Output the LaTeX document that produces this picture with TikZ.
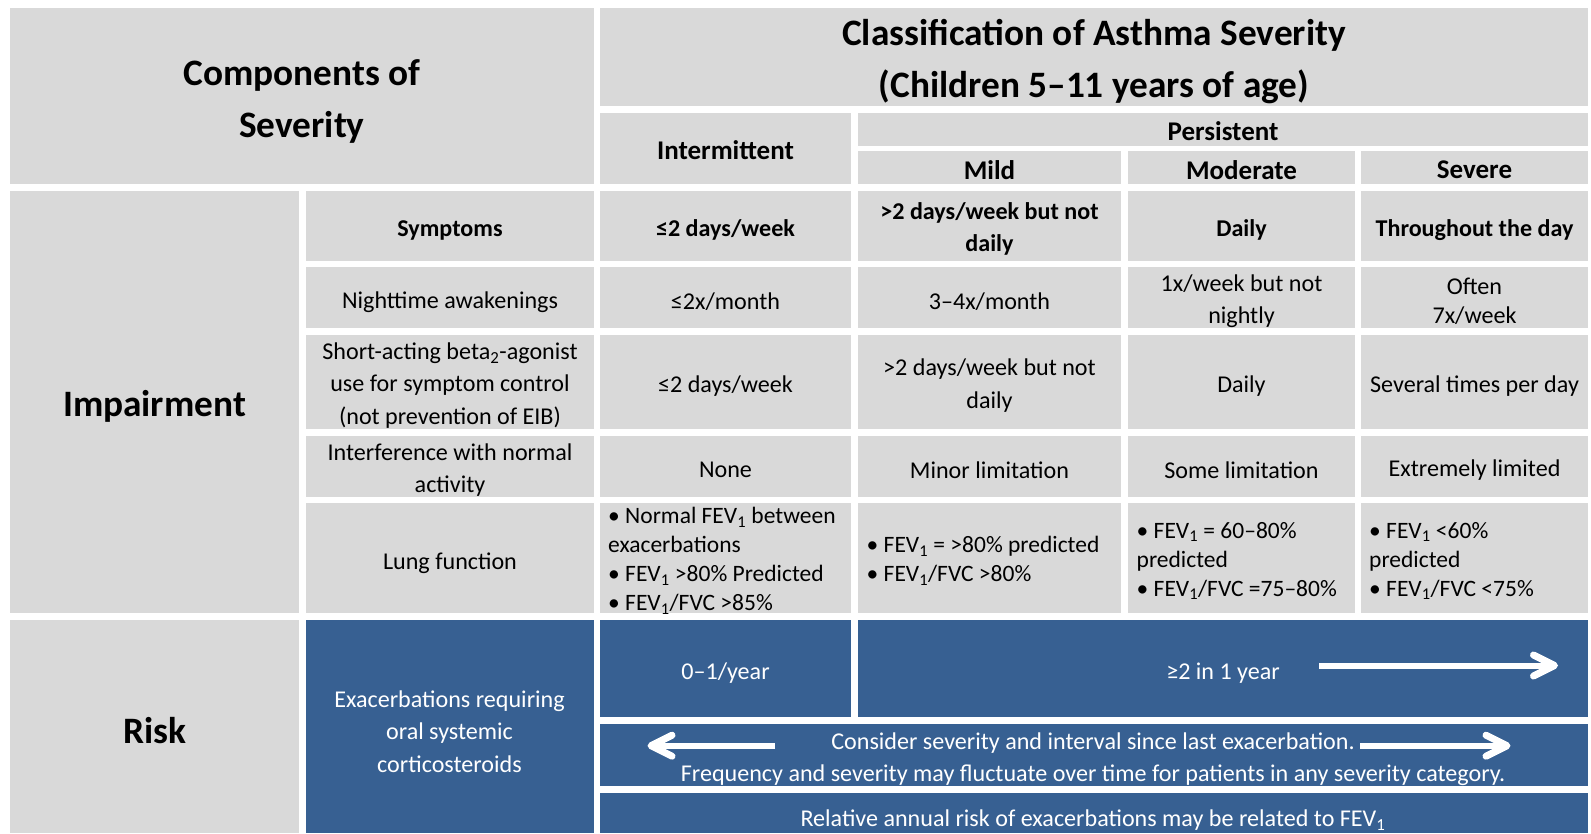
\documentclass[tikz,border=0pt]{standalone}
\usepackage{fontspec}
\setmainfont{Carlito}
\usetikzlibrary{calc}
\definecolor{cgray}{HTML}{D9D9D9}
\definecolor{cblue}{HTML}{376092}
\tikzset{
  gcell/.style={fill=cgray},
  bcell/.style={fill=cblue},
  txt/.style={font=\fontsize{24.1}{32.5}\selectfont, align=center, inner sep=0pt, text=black},
  btxt/.style={txt, font=\bfseries\fontsize{24.1}{32.5}\selectfont},
  htxt/.style={txt, font=\bfseries\fontsize{27}{32.5}\selectfont},
  wtxt/.style={txt, text=white},
  ltxt/.style={font=\fontsize{23.5}{29}\selectfont, align=left, inner sep=0pt, anchor=west},
  bigtxt/.style={align=center, inner sep=0pt, font=\bfseries\fontsize{37.3}{52}\selectfont},
  sidetxt/.style={align=center, inner sep=0pt, font=\bfseries\fontsize{37.3}{40}\selectfont},
  wshaft/.style={draw=white, line width=6pt},
  whead/.style={draw=white, line width=7pt, line cap=round, line join=round}
}
\newcommand{\sub}[1]{\textsubscript{#1}}
\begin{document}
\begin{tikzpicture}[x=1pt,y=-1pt]
\useasboundingbox (0,0) rectangle (1591,833);
\fill[white] (0,0) rectangle (1591,833);
% header cells
\path[gcell] (10,8) rectangle (594,184);
\path[gcell] (600,8) rectangle (1588,106);
\path[gcell] (600,112.5) rectangle (851,184);
\path[gcell] (858,112.5) rectangle (1588,146);
\path[gcell] (858,151) rectangle (1121,184);
\path[gcell] (1128,151) rectangle (1355,184);
\path[gcell] (1361,151) rectangle (1588,184);
% left columns
\path[gcell] (10,190.5) rectangle (299,613);
\path[gcell] (10,620) rectangle (299,833);
% impairment rows
\foreach \ya/\yb in {190.5/260.5, 266.8/327.7, 334.5/428.7, 435.5/496.5, 503/613}{
  \path[gcell] (305.5,\ya) rectangle (594,\yb);
  \path[gcell] (600,\ya) rectangle (851,\yb);
  \path[gcell] (858,\ya) rectangle (1121,\yb);
  \path[gcell] (1128,\ya) rectangle (1355,\yb);
  \path[gcell] (1361,\ya) rectangle (1588,\yb);
}
% risk cells
\path[bcell] (305.5,620) rectangle (594,833);
\path[bcell] (600,620) rectangle (851,716.5);
\path[bcell] (858,620) rectangle (1588,716.5);
\path[bcell] (600,723.5) rectangle (1588,786);
\path[bcell] (600,792.5) rectangle (1588,833);

% header texts
\node[bigtxt] (comp) at (302,101) {Components of\\Severity};
\node[bigtxt] (title) at (1094,62) {Classification of Asthma Severity\\(Children 5–11 years of age)};
\node[htxt] (inter) at (725.5,150) {Intermittent};
\node[htxt] (pers) at (1223,131) {Persistent};
\node[htxt] (mild) at (989.5,170) {Mild};
\node[htxt] (mod) at (1241.5,170) {Moderate};
\node[htxt] (sev) at (1474.5,170) {Severe};

% left labels
\node[sidetxt] (imp) at (154.5,406) {Impairment};
\node[sidetxt] (risk) at (154.5,731) {Risk};

% symptoms row
\node[btxt] (s0) at (450,230) {Symptoms};
\node[btxt] (s1) at (725.5,230) {≤2 days/week};
\node[btxt] (s2) at (989.5,229) {>2 days/week but not\\daily};
\node[btxt] (s3) at (1241.5,230) {Daily};
\node[btxt] (s4) at (1474.5,230) {Throughout the day};

% nighttime row
\node[txt] (n0) at (450,302) {Nighttime awakenings};
\node[txt] (n1) at (725.5,302) {≤2x/month};
\node[txt] (n2) at (989.5,302) {3–4x/month};
\node[txt] (n3) at (1241.5,301) {1x/week but not\\nightly};
\node[txt, font=\fontsize{24.1}{28.5}\selectfont] (n4) at (1474.5,301) {Often\\7x/week};

% SABA row
\node[txt] (b0) at (450,385.5) {Short-acting beta\sub{2}-agonist\\use for symptom control\\(not prevention of EIB)};
\node[txt] (b1) at (725.5,386) {≤2 days/week};
\node[txt] (b2) at (989.5,385.5) {>2 days/week but not\\daily};
\node[txt] (b3) at (1241.5,386) {Daily};
\node[txt] (b4) at (1474.5,386) {Several times per day};

% interference row
\node[txt] (i0) at (450,470) {Interference with normal\\activity};
\node[txt] (i1) at (725.5,470) {None};
\node[txt] (i2) at (989.5,470) {Minor limitation};
\node[txt] (i3) at (1241.5,470) {Some limitation};
\node[txt] (i4) at (1474.5,470) {Extremely limited};

% lung function row
\node[txt] (l0) at (450,563) {Lung function};
\node[ltxt] (l1) at (608,561) {• Normal FEV\sub{1} between\\exacerbations\\• FEV\sub{1} >80\% Predicted\\• FEV\sub{1}/FVC >85\%};
\node[ltxt] (l2) at (866.5,561) {• FEV\sub{1} = >80\% predicted\\• FEV\sub{1}/FVC >80\%};
\node[ltxt] (l3) at (1136.5,561) {• FEV\sub{1} = 60–80\%\\predicted\\• FEV\sub{1}/FVC =75–80\%};
\node[ltxt] (l4) at (1369,561) {• FEV\sub{1} <60\%\\predicted\\• FEV\sub{1}/FVC <75\%};

% risk texts
\node[wtxt] (ex) at (449.5,731.5) {Exacerbations requiring\\oral systemic\\corticosteroids};
\node[wtxt] (r1) at (725.5,673) {0–1/year};
\node[wtxt] (r2) at (1223,673) {≥2 in 1 year};
\node[wtxt] (cons) at (1093,759) {Consider severity and interval since last exacerbation.\\Frequency and severity may fluctuate over time for patients in any severity category.};
\node[wtxt] (rel) at (1093,820) {Relative annual risk of exacerbations may be related to FEV\sub{1}};

% arrows
\coordinate (a1s) at (1319,665.5);
\coordinate (a1e) at (1554.5,665.5);
\coordinate (a2s) at (775,745.7);
\coordinate (a2e) at (651,745.7);
\coordinate (a3s) at (1360,745.7);
\coordinate (a3e) at (1507,745.7);
\draw[wshaft] (a1s) -- (a1e);
\draw[whead] ($(a1e)+(-21,-10.5)$) -- (a1e) -- ($(a1e)+(-21,10.5)$);
\draw[wshaft] (a2s) -- (a2e);
\draw[whead] ($(a2e)+(21,-10.5)$) -- (a2e) -- ($(a2e)+(21,10.5)$);
\draw[wshaft] (a3s) -- (a3e);
\draw[whead] ($(a3e)+(-21,-10.5)$) -- (a3e) -- ($(a3e)+(-21,10.5)$);
\end{tikzpicture}
\end{document}
